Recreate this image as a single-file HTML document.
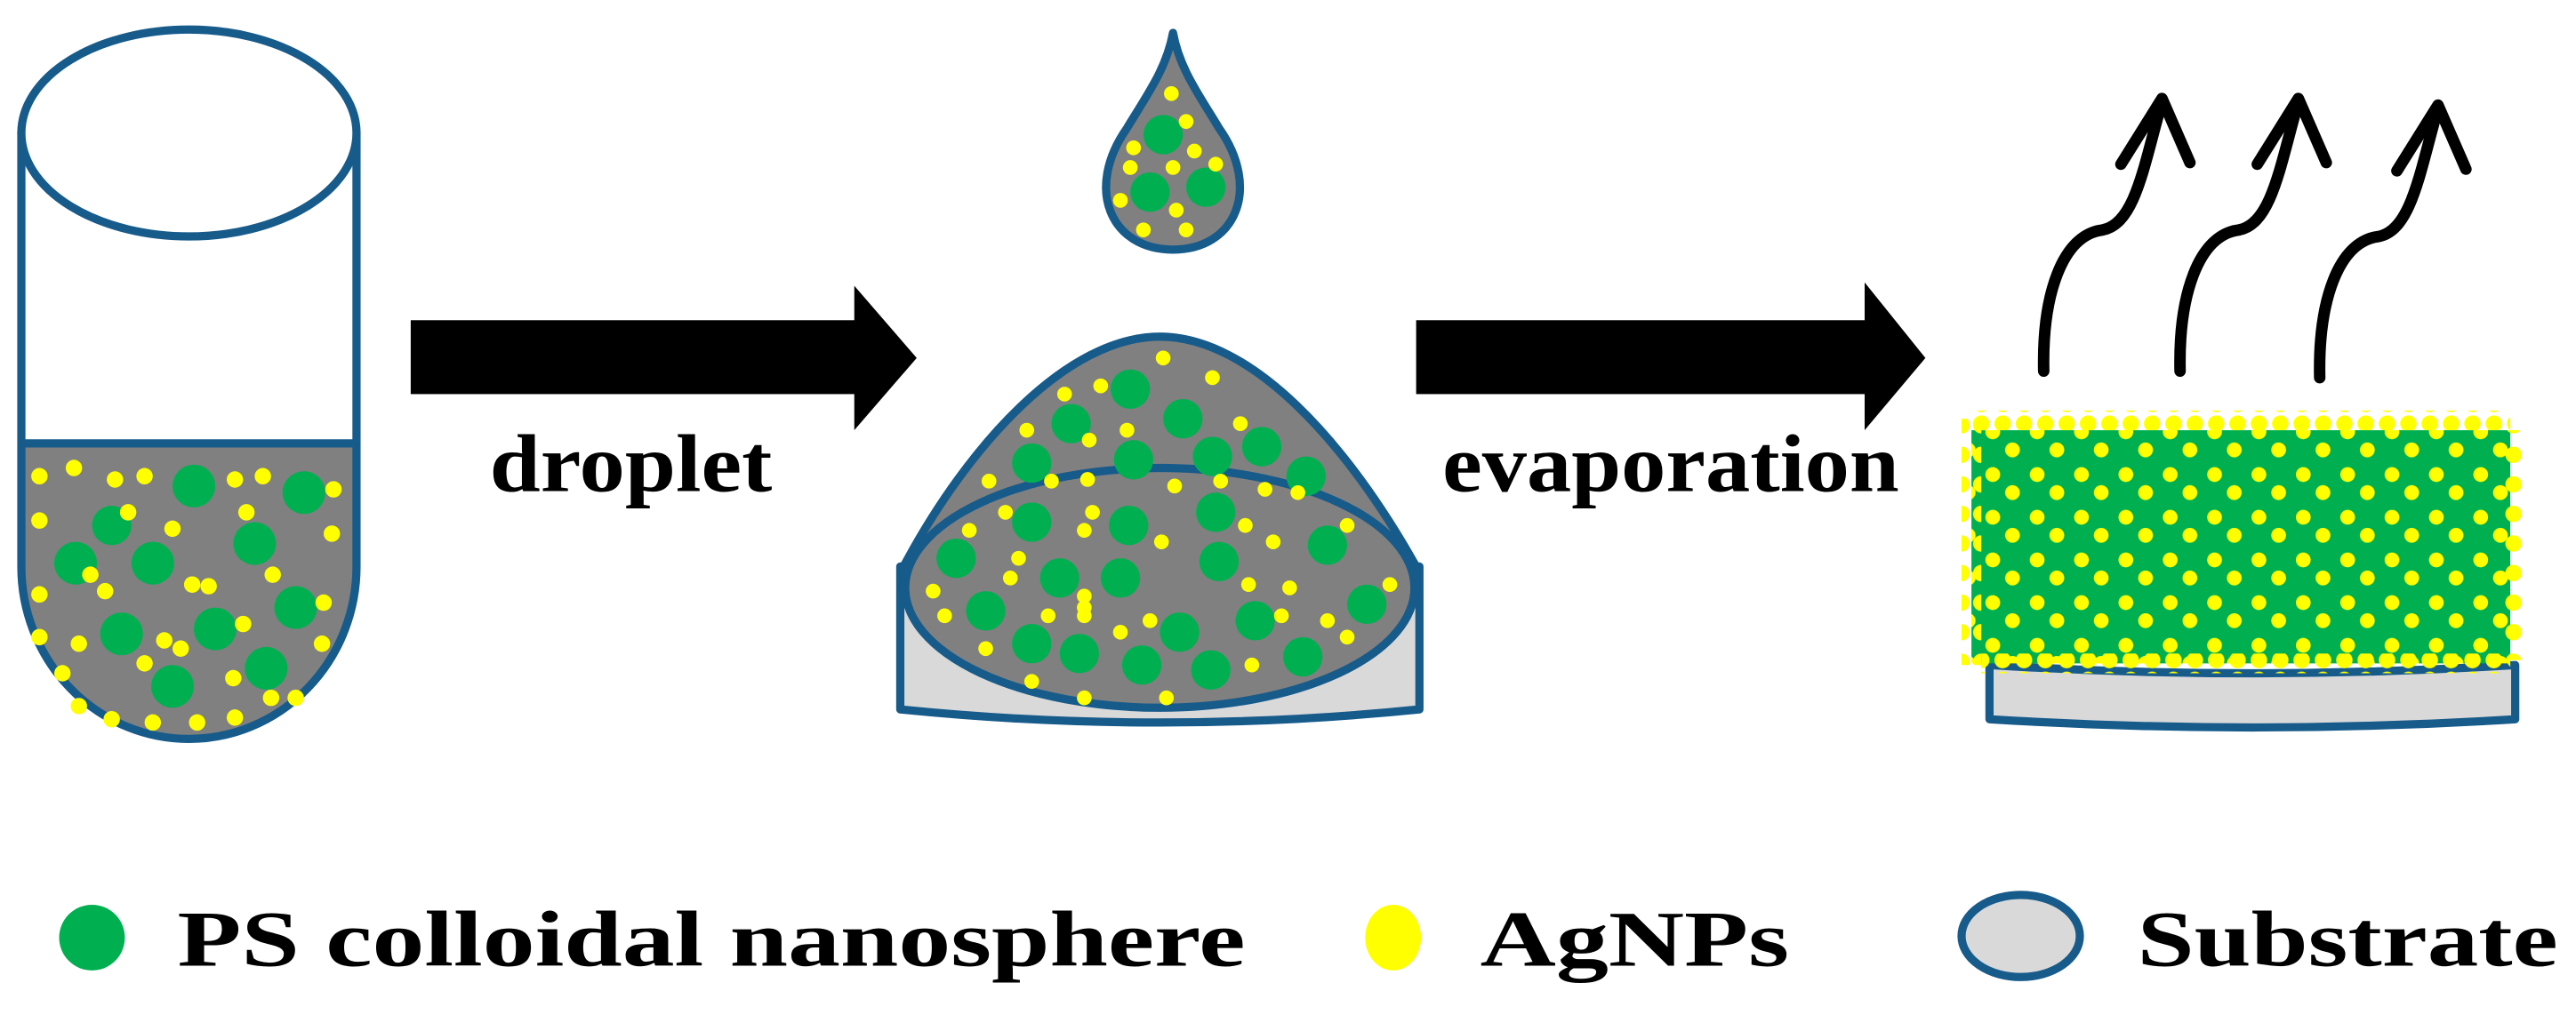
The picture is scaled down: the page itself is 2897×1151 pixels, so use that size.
<!DOCTYPE html>
<html><head><meta charset="utf-8"><style>html,body{margin:0;padding:0;background:#fff}svg{display:block}</style></head>
<body>
<svg width="2897" height="1151" viewBox="0 0 1568 623" preserveAspectRatio="none" xmlns="http://www.w3.org/2000/svg">
<defs>
<pattern id="gp" x="1205" y="255" width="27" height="26" patternUnits="userSpaceOnUse">
<rect width="27" height="26" fill="#00b050"/>
<circle cx="13" cy="13" r="14" fill="#00b050"/>
<circle cx="8" cy="8" r="4.5" fill="#ffff00"/>
<circle cx="20" cy="19" r="4.5" fill="#ffff00"/>
</pattern>
<pattern id="yp" x="1200" y="0" width="13" height="12" patternUnits="userSpaceOnUse">
<circle cx="6" cy="6" r="5" fill="#ffff00"/>
</pattern>
<pattern id="yv" x="0" y="250" width="12" height="18" patternUnits="userSpaceOnUse">
<circle cx="6" cy="9" r="5" fill="#ffff00"/>
</pattern>
</defs>
<g stroke="#175b8b" stroke-width="5">
<path d="M13 270 L217 270 L217 345 A102 105 0 0 1 13 345 Z" fill="#808080" stroke="none"/>
<path d="M13 80 L13 345 A102 105 0 0 0 217 345 L217 80" fill="none"/>
<line x1="13" y1="270" x2="217" y2="270"/>
<ellipse cx="115" cy="81" rx="102" ry="63" fill="#fff"/>
</g>
<g fill="#00b050">
<circle cx="118" cy="296" r="13"/><circle cx="185" cy="300" r="13"/><circle cx="46" cy="343" r="13"/><circle cx="93" cy="343" r="13"/><circle cx="155" cy="331" r="13"/><circle cx="180" cy="370" r="13"/><circle cx="74" cy="386" r="13"/><circle cx="131" cy="383" r="13"/><circle cx="162" cy="407" r="13"/><circle cx="105" cy="418" r="13"/><circle cx="68" cy="320" r="12"/>
</g>
<g fill="#ffff00">
<circle cx="24" cy="290" r="5"/><circle cx="45" cy="285" r="5"/><circle cx="70" cy="292" r="5"/><circle cx="88" cy="290" r="5"/><circle cx="143" cy="292" r="5"/><circle cx="160" cy="290" r="5"/><circle cx="203" cy="298" r="5"/><circle cx="24" cy="317" r="5"/><circle cx="78" cy="312" r="5"/><circle cx="105" cy="322" r="5"/><circle cx="150" cy="312" r="5"/><circle cx="202" cy="325" r="5"/><circle cx="55" cy="350" r="5"/><circle cx="117" cy="356" r="5"/><circle cx="166" cy="350" r="5"/><circle cx="24" cy="362" r="5"/><circle cx="127" cy="357" r="5"/><circle cx="197" cy="367" r="5"/><circle cx="64" cy="360" r="5"/><circle cx="24" cy="388" r="5"/><circle cx="48" cy="392" r="5"/><circle cx="100" cy="390" r="5"/><circle cx="148" cy="380" r="5"/><circle cx="196" cy="392" r="5"/><circle cx="38" cy="410" r="5"/><circle cx="88" cy="404" r="5"/><circle cx="142" cy="413" r="5"/><circle cx="180" cy="425" r="5"/><circle cx="48" cy="430" r="5"/><circle cx="68" cy="438" r="5"/><circle cx="93" cy="440" r="5"/><circle cx="120" cy="440" r="5"/><circle cx="143" cy="437" r="5"/><circle cx="165" cy="425" r="5"/><circle cx="110" cy="395" r="5"/>
</g>
<rect x="250" y="195" width="275" height="45" fill="#000"/>
<polygon points="520,174 558,218 520,262" fill="#000"/>
<text x="384" y="299" text-anchor="middle" font-family="Liberation Serif, serif" font-weight="bold" font-size="50" textLength="172" lengthAdjust="spacingAndGlyphs">droplet</text>
<path d="M714 20 C718 42 730 58 742 78 C768 115 752 152 714 152 C676 152 660 115 686 78 C698 58 710 42 714 20 Z" fill="#808080" stroke="#175b8b" stroke-width="5" stroke-linejoin="round"/>
<g fill="#00b050"><circle cx="708" cy="82" r="12"/><circle cx="700" cy="117" r="12"/><circle cx="734" cy="114" r="12"/></g>
<g fill="#ffff00"><circle cx="713" cy="57" r="4.5"/><circle cx="722" cy="74" r="4.5"/><circle cx="690" cy="90" r="4.5"/><circle cx="727" cy="92" r="4.5"/><circle cx="688" cy="102" r="4.5"/><circle cx="714" cy="102" r="4.5"/><circle cx="740" cy="100" r="4.5"/><circle cx="682" cy="122" r="4.5"/><circle cx="716" cy="128" r="4.5"/><circle cx="696" cy="140" r="4.5"/><circle cx="722" cy="140" r="4.5"/></g>
<path d="M548 345 L548 432 Q706 448 864 432 L864 345 Z" fill="#d9d9d9" stroke="#175b8b" stroke-width="5" stroke-linejoin="round"/>
<path d="M550 345 C590 270 650 205 706 205 C762 205 820 270 862 345 L862 360 L550 360 Z" fill="#808080" stroke="#175b8b" stroke-width="5" stroke-linejoin="round"/>
<ellipse cx="706" cy="358" rx="155" ry="73" fill="#808080" stroke="#175b8b" stroke-width="5"/>
<g fill="#00b050">
<circle cx="688" cy="237" r="12"/><circle cx="652" cy="258" r="12"/><circle cx="720" cy="255" r="12"/><circle cx="628" cy="282" r="12"/><circle cx="690" cy="280" r="12"/><circle cx="738" cy="278" r="12"/><circle cx="768" cy="272" r="12"/><circle cx="795" cy="290" r="12"/><circle cx="582" cy="340" r="12"/><circle cx="628" cy="318" r="12"/><circle cx="687" cy="320" r="12"/><circle cx="740" cy="312" r="12"/><circle cx="808" cy="332" r="12"/><circle cx="600" cy="372" r="12"/><circle cx="645" cy="352" r="12"/><circle cx="682" cy="352" r="12"/><circle cx="742" cy="342" r="12"/><circle cx="832" cy="368" r="12"/><circle cx="628" cy="392" r="12"/><circle cx="718" cy="385" r="12"/><circle cx="764" cy="378" r="12"/><circle cx="657" cy="398" r="12"/><circle cx="793" cy="400" r="12"/><circle cx="737" cy="408" r="12"/><circle cx="695" cy="405" r="12"/>
</g>
<g fill="#ffff00">
<circle cx="708" cy="218" r="4.5"/><circle cx="670" cy="235" r="4.5"/><circle cx="738" cy="230" r="4.5"/><circle cx="648" cy="240" r="4.5"/><circle cx="625" cy="262" r="4.5"/><circle cx="686" cy="262" r="4.5"/><circle cx="755" cy="258" r="4.5"/><circle cx="663" cy="268" r="4.5"/><circle cx="602" cy="293" r="4.5"/><circle cx="640" cy="293" r="4.5"/><circle cx="662" cy="292" r="4.5"/><circle cx="715" cy="296" r="4.5"/><circle cx="743" cy="293" r="4.5"/><circle cx="770" cy="298" r="4.5"/><circle cx="790" cy="300" r="4.5"/><circle cx="612" cy="312" r="4.5"/><circle cx="660" cy="323" r="4.5"/><circle cx="665" cy="312" r="4.5"/><circle cx="758" cy="320" r="4.5"/><circle cx="590" cy="323" r="4.5"/><circle cx="707" cy="330" r="4.5"/><circle cx="775" cy="330" r="4.5"/><circle cx="820" cy="320" r="4.5"/><circle cx="568" cy="360" r="4.5"/><circle cx="615" cy="352" r="4.5"/><circle cx="660" cy="363" r="4.5"/><circle cx="760" cy="356" r="4.5"/><circle cx="785" cy="358" r="4.5"/><circle cx="846" cy="356" r="4.5"/><circle cx="575" cy="375" r="4.5"/><circle cx="638" cy="375" r="4.5"/><circle cx="660" cy="375" r="4.5"/><circle cx="682" cy="385" r="4.5"/><circle cx="780" cy="375" r="4.5"/><circle cx="808" cy="378" r="4.5"/><circle cx="600" cy="395" r="4.5"/><circle cx="628" cy="415" r="4.5"/><circle cx="660" cy="370" r="4.5"/><circle cx="700" cy="378" r="4.5"/><circle cx="762" cy="405" r="4.5"/><circle cx="660" cy="425" r="4.5"/><circle cx="710" cy="425" r="4.5"/><circle cx="620" cy="340" r="4.5"/><circle cx="820" cy="388" r="4.5"/></g>
<rect x="862" y="195" width="278" height="45" fill="#000"/>
<polygon points="1135,172 1172,218 1135,262" fill="#000"/>
<text x="1017" y="299" text-anchor="middle" font-family="Liberation Serif, serif" font-weight="bold" font-size="50" textLength="278" lengthAdjust="spacingAndGlyphs">evaporation</text>
<path d="M1211 405 Q1371 415 1531 405 L1531 438 Q1371 448 1211 438 Z" fill="#d9d9d9" stroke="#175b8b" stroke-width="5" stroke-linejoin="round"/>
<rect x="1200" y="262" width="328" height="142" fill="url(#gp)"/>
<rect x="1200" y="250" width="328" height="12" fill="url(#yp)"/>
<rect x="1206" y="398" width="322" height="12" fill="url(#yp)"/>
<rect x="1194" y="255" width="12" height="150" fill="url(#yv)"/>
<rect x="1524" y="262" width="12" height="140" fill="url(#yv)"/>
<g fill="none" stroke="#000" stroke-width="7" stroke-linecap="round" stroke-linejoin="round">
<path d="M1244 226 C1243 180 1255 143 1280 140 C1300 136 1305 100 1316 62"/>
<path d="M1291 100 L1316 60 L1333 99"/>
<path d="M1327 226 C1326 180 1338 143 1363 140 C1383 136 1388 100 1399 62"/>
<path d="M1374 100 L1399 60 L1416 99"/>
<path d="M1412 230 C1411 184 1423 147 1448 144 C1468 140 1473 104 1484 66"/>
<path d="M1459 104 L1484 64 L1501 103"/>
</g>
<circle cx="56" cy="571" r="20" fill="#00b050"/>
<text x="108" y="588" font-family="Liberation Serif, serif" font-weight="bold" font-size="48" textLength="650" lengthAdjust="spacingAndGlyphs">PS colloidal nanosphere</text>
<ellipse cx="848" cy="571" rx="17" ry="20" fill="#ffff00"/>
<text x="901" y="588" font-family="Liberation Serif, serif" font-weight="bold" font-size="48" textLength="188" lengthAdjust="spacingAndGlyphs">AgNPs</text>
<ellipse cx="1230" cy="570" rx="36" ry="25" fill="#d9d9d9" stroke="#175b8b" stroke-width="5"/>
<text x="1301" y="588" font-family="Liberation Serif, serif" font-weight="bold" font-size="48" textLength="256" lengthAdjust="spacingAndGlyphs">Substrate</text>
</svg>
</body></html>
